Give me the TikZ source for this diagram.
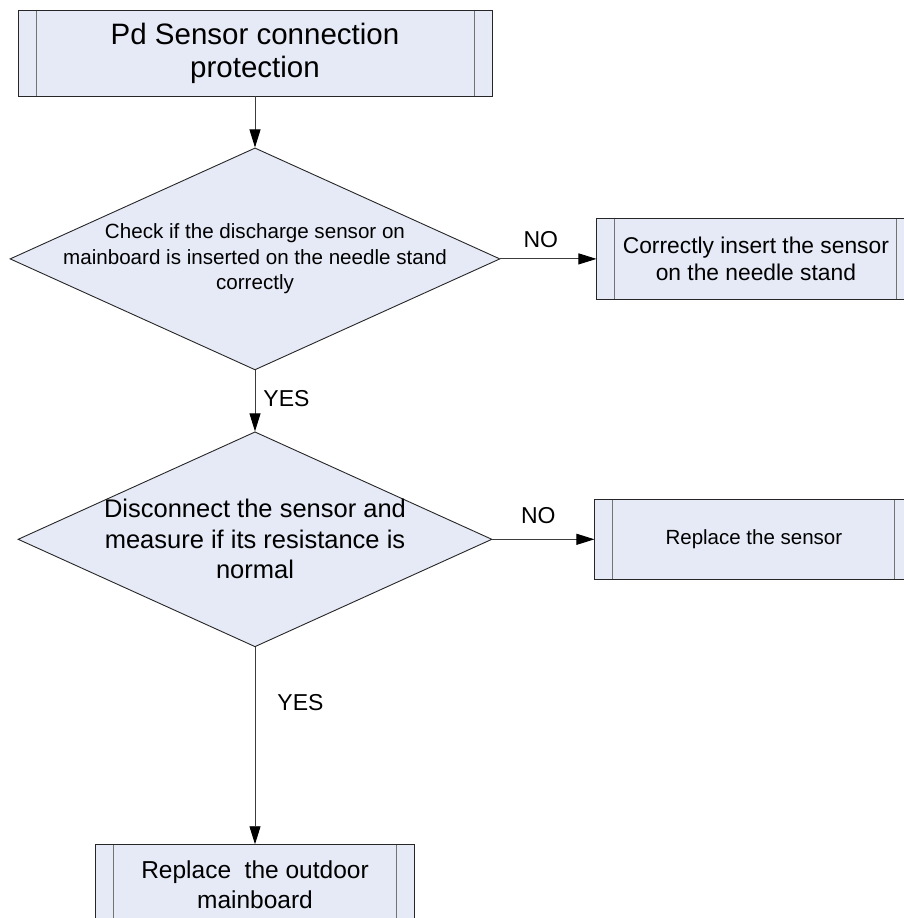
\documentclass[tikz,border=0pt]{standalone}
\usepackage{fontspec}
\setmainfont{Liberation Sans}
\usepackage{tikz}
\usetikzlibrary{positioning,arrows.meta,shapes.geometric}
\definecolor{boxfill}{RGB}{230,234,246}
\definecolor{linegray}{RGB}{60,60,60}

\begin{document}
\begin{tikzpicture}[x=1pt, y=-1pt,
  proc/.style={draw=black!85, fill=boxfill, line width=0.9pt, inner sep=0pt, align=center,
    path picture={\draw[black!55, line width=0.9pt]
      ([xshift=18pt]path picture bounding box.north west) -- ([xshift=18pt]path picture bounding box.south west)
      ([xshift=-18pt]path picture bounding box.north east) -- ([xshift=-18pt]path picture bounding box.south east);}},
  decision/.style={diamond, draw=black!85, fill=boxfill, line width=0.9pt, inner sep=0pt},
  btext/.style={inner sep=0pt, align=center},
  lbl/.style={inner sep=0pt, font=\fontsize{23}{27}\selectfont},
  arr/.style={draw=linegray, line width=0.9pt, -{Triangle[length=18pt, width=11pt, color=black]}},
]
\useasboundingbox (0,0) rectangle (904,918);
\clip (0,0) rectangle (904,918);

% Start box
\node[proc, minimum width=474pt, minimum height=86pt, font=\fontsize{29.5}{33}\selectfont]
  (b1) at (255,53) {Pd Sensor connection\\protection};

% First check
\node[decision, minimum width=490pt, minimum height=222pt, below=51pt of b1] (d1) {};
\node[btext, font=\fontsize{20.6}{25.6}\selectfont] (d1text) at (d1)
  {Check if the discharge sensor on\\mainboard is inserted on the needle stand\\correctly};
\node[proc, minimum width=318pt, minimum height=81pt, font=\fontsize{22.8}{27}\selectfont,
  right=96pt of d1] (b2) {Correctly insert the sensor\\on the needle stand};

% Second check
\node[decision, minimum width=474pt, minimum height=215pt, below=61pt of d1] (d2) {};
\node[btext, font=\fontsize{25.5}{30.5}\selectfont] (d2text) at (d2)
  {Disconnect the sensor and\\measure if its resistance is\\normal};
\node[proc, minimum width=318pt, minimum height=80pt, font=\fontsize{20.5}{24}\selectfont,
  right=102pt of d2] (b3) {Replace the sensor};

% End box
\node[proc, minimum width=319pt, minimum height=86pt, below=197pt of d2] (b4) {};
\node[btext, font=\fontsize{24.5}{30.5}\selectfont, below=16pt of b4.north] (b4text)
  {Replace\ \ the outdoor\\mainboard};

% Connectors
\draw[arr] (b1) -- (d1);
\draw[arr] (d1.east) -- node[lbl, above=11pt, pos=0.42] (no1) {NO} (b2.west);
\draw[arr] (d1.south) -- node[lbl, right=8pt, pos=0.46] (yes1) {YES} (d2.north);
\draw[arr] (d2.east) -- node[lbl, above=15pt, pos=0.45] (no2) {NO} (b3.west);
\draw[arr] (d2.south) -- node[lbl, right=22pt, pos=0.28] (yes2) {YES} (b4.north);

\end{tikzpicture}
\end{document}
